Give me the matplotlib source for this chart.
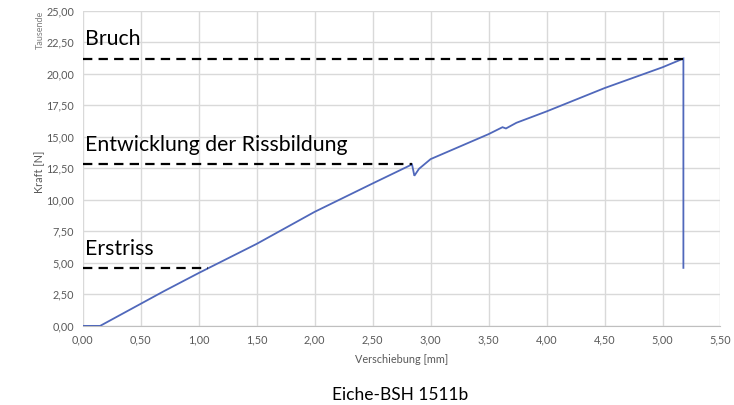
import matplotlib
matplotlib.use("Agg")
import matplotlib.pyplot as plt
from matplotlib.ticker import MultipleLocator, FuncFormatter

# Data (Verschiebung [mm], Kraft [Tausend N])
x_disp = [0.00, 0.15, 0.50, 0.70, 1.00, 1.50, 2.00, 2.50, 2.84, 2.86, 2.90, 3.00, 3.50, 3.62, 3.65, 3.74, 4.00, 4.50, 5.00, 5.18, 5.18]
y_force = [0.00, 0.00, 1.75, 2.75, 4.19, 6.50, 9.04, 11.29, 12.80, 11.90, 12.45, 13.22, 15.20, 15.75, 15.65, 16.10, 17.00, 18.85, 20.50, 21.19, 4.60]

levels_names = ["Erstriss", "Entwicklung der Rissbildung", "Bruch"]
levels_y = [4.57, 12.84, 21.19]
levels_xend = [1.08, 2.84, 5.18]

title = "Eiche-BSH 1511b"
xlabel = "Verschiebung [mm]"
ylabel = "Kraft [N]"
unit_label = "Tausende"

plt.rcParams['font.family'] = ['Lato', 'DejaVu Sans']

fig = plt.figure(figsize=(7.34, 4.05), dpi=100)
ax = fig.add_axes([82.7/734, 1-325.9/405, (720.5-82.7)/734, (325.9-10.5)/405])

ax.plot(x_disp, y_force, color="#5068bb", lw=1.3, zorder=3, solid_joinstyle='miter')

for name, ly, lx in zip(levels_names, levels_y, levels_xend):
    ax.plot([0, lx], [ly, ly], color="black", lw=1.6, ls=(0, (4.2, 2.8)), zorder=4)
    ax.text(0.02, ly + 1.05, name, fontsize=15.3, color="black", va="baseline", ha="left", zorder=5)

ax.set_xlim(0, 5.5)
ax.set_ylim(0, 25)
ax.xaxis.set_major_locator(MultipleLocator(0.5))
ax.yaxis.set_major_locator(MultipleLocator(2.5))
fmt = FuncFormatter(lambda v, p: f"{v:.2f}".replace(".", ","))
ax.xaxis.set_major_formatter(fmt)
ax.yaxis.set_major_formatter(fmt)
ax.grid(True, color="#d9d9d9", lw=1.0)
ax.set_axisbelow(True)
for s in ["top", "right", "left"]:
    ax.spines[s].set_visible(False)
ax.spines["bottom"].set_color("#bfbfbf")
ax.tick_params(length=0, labelsize=7.8, colors="#595959", pad=6)

ax.set_xlabel(xlabel, fontsize=7.8, color="#595959", labelpad=6)
fig.text(40/734, 1-172/405, ylabel, rotation=90, fontsize=7.8, color="#595959", ha="center", va="center")
fig.text(40/734, 1-30/405, unit_label, rotation=90, fontsize=6.5, color="#7f7f7f", ha="center", va="center")
fig.text(400/734, 1-395/405, title, fontsize=12.5, color="black", ha="center", va="center")

fig.savefig("out.png", dpi=100, facecolor="white")
